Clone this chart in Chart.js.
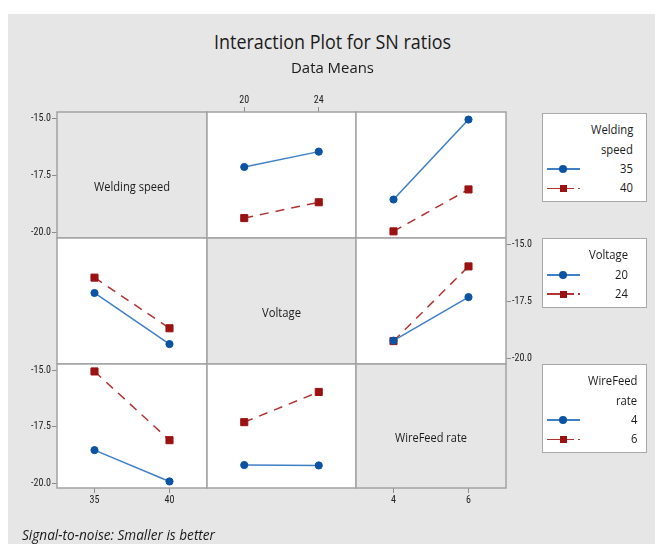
<!DOCTYPE html>
<html lang="en">
<head>
<meta charset="UTF-8">
<meta name="viewport" content="width=device-width, initial-scale=1.0">
<title>Interaction Plot for SN ratios</title>
<script src="https://cdn.jsdelivr.net/npm/chart.js"></script>
<style>
  body { margin: 0; width: 655px; height: 544px; position: relative; overflow: hidden; background: #fff; font-family: 'Open Sans', sans-serif; color: #1a1a1a; }
  .frame { position: absolute; left: 8px; top: 14px; right: 0; bottom: 0; background: #e6e6e6; }
  canvas { position: absolute; }
  .txt { position: absolute; white-space: nowrap; line-height: 1; transform-origin: 0 0; }
  .legend { position: absolute; background: #fff; border: 1px solid #a8a8a8; box-sizing: border-box; }
  .swatch { position: absolute; }
</style>
</head>
<body>
<div class="frame"></div>
<script>
  // factor levels and axis ranges
  const speedLevels = [35, 40];
  const voltageLevels = [20, 24];
  const wireFeedLevels = [4, 6];
  const speedRange = [32.5, 42.5];
  const voltageRange = [18, 26];
  const wireFeedRange = [3, 7];
  const snRange = [-20.22, -14.72];
  const snTicks = [-15, -17.5, -20];

  // mean SN ratios for each pair of levels
  const speed35ByVoltage = [-17.12, -16.45];
  const speed40ByVoltage = [-19.35, -18.66];
  const speed35ByWireFeed = [-18.54, -15.05];
  const speed40ByWireFeed = [-19.93, -18.10];
  const voltage20ByWireFeed = [-19.20, -17.30];
  const voltage24ByWireFeed = [-19.22, -15.96];

  const factors = [
    { name: 'Welding speed', legend: ['Welding', 'speed'], levels: speedLevels, range: speedRange },
    { name: 'Voltage', legend: ['Voltage'], levels: voltageLevels, range: voltageRange },
    { name: 'WireFeed rate', legend: ['WireFeed', 'rate'], levels: wireFeedLevels, range: wireFeedRange }
  ];

  // row factor = line series, column factor = x axis
  const means = {
    '0-1': [speed35ByVoltage, speed40ByVoltage],
    '0-2': [speed35ByWireFeed, speed40ByWireFeed],
    '1-0': [[speed35ByVoltage[0], speed40ByVoltage[0]], [speed35ByVoltage[1], speed40ByVoltage[1]]],
    '1-2': [voltage20ByWireFeed, voltage24ByWireFeed],
    '2-0': [[speed35ByWireFeed[0], speed40ByWireFeed[0]], [speed35ByWireFeed[1], speed40ByWireFeed[1]]],
    '2-1': [[voltage20ByWireFeed[0], voltage24ByWireFeed[0]], [voltage20ByWireFeed[1], voltage24ByWireFeed[1]]]
  };

  // grid layout (px)
  const colLeft = [57, 207, 356], colW = [150, 149, 150];
  const rowTop = [112, 238, 364], rowH = [126, 126, 124];
  const yAxisSide = ['left', 'right', 'left'];
  const yAxisCol = [0, 2, 0];
  const xAxisSide = ['bottom', 'top', 'bottom'];
  const xAxisRow = [2, 0, 2];
  const M = { l: 45, r: 45, t: 28, b: 28 };

  const seriesStyle = [
    { line: '#3f7fc6', point: '#0b53a3', shape: 'circle', radius: 3.6, dash: [] },
    { line: '#b13434', point: '#9a1212', shape: 'rect', radius: 5, dash: [9, 7] }
  ];
  const tickFont = { family: "'Liberation Sans Narrow', 'Roboto Condensed', Roboto, sans-serif", size: 10 };

  const panelBox = {
    id: 'panelBox',
    beforeDatasetsDraw(chart, args, opts) {
      const { ctx, chartArea: a } = chart;
      ctx.save();
      ctx.fillStyle = opts.fill;
      ctx.fillRect(a.left, a.top, a.width, a.height);
      ctx.strokeStyle = '#a3a3a3';
      ctx.lineWidth = 1.5;
      ctx.strokeRect(a.left, a.top, a.width, a.height);
      ctx.restore();
    }
  };

  function makePanel(r, c) {
    const cv = document.createElement('canvas');
    cv.width = colW[c] + M.l + M.r;
    cv.height = rowH[r] + M.t + M.b;
    cv.style.left = (colLeft[c] - M.l) + 'px';
    cv.style.top = (rowTop[r] - M.t) + 'px';
    document.body.appendChild(cv);

    const showX = xAxisRow[c] === r, showY = yAxisCol[r] === c;
    const xPos = xAxisSide[c], yPos = yAxisSide[r];
    const diag = r === c;
    const datasets = diag ? [] : means[r + '-' + c].map((vals, i) => ({
      data: factors[c].levels.map((x, j) => ({ x: x, y: vals[j] })),
      borderColor: seriesStyle[i].line,
      borderWidth: 1.5,
      borderDash: seriesStyle[i].dash,
      pointStyle: seriesStyle[i].shape,
      pointRadius: seriesStyle[i].radius,
      pointBackgroundColor: seriesStyle[i].point,
      pointBorderColor: seriesStyle[i].point,
      pointBorderWidth: 1
    }));

    new Chart(cv.getContext('2d'), {
      type: 'line',
      data: { datasets: datasets },
      plugins: [panelBox],
      options: {
        responsive: false,
        animation: false,
        events: [],
        layout: {
          padding: {
            left: yPos === 'left' ? 0 : M.l,
            right: yPos === 'right' ? 0 : M.r,
            top: xPos === 'top' ? 0 : M.t,
            bottom: xPos === 'bottom' ? 0 : M.b
          }
        },
        scales: {
          x: {
            type: 'linear', position: xPos,
            min: factors[c].range[0], max: factors[c].range[1],
            afterBuildTicks: s => { s.ticks = factors[c].levels.map(v => ({ value: v })); },
            afterFit: s => { s.height = xPos === 'top' ? M.t : M.b; },
            grid: { display: showX, drawOnChartArea: false, tickLength: 5, color: '#8c8c8c' },
            border: { display: false },
            ticks: { display: showX, color: '#222', font: tickFont, padding: 1, maxRotation: 0, autoSkip: false }
          },
          y: {
            type: 'linear', position: yPos,
            min: snRange[0], max: snRange[1],
            afterBuildTicks: s => { s.ticks = snTicks.map(v => ({ value: v })); },
            afterFit: s => { s.width = yPos === 'left' ? M.l : M.r; },
            grid: { display: showY, drawOnChartArea: false, tickLength: 5, color: '#8c8c8c' },
            border: { display: false },
            ticks: { display: showY, color: '#222', font: tickFont, padding: 1, autoSkip: false,
              callback: v => v.toFixed(1) }
          }
        },
        plugins: {
          legend: { display: false },
          tooltip: { enabled: false },
          panelBox: { fill: diag ? '#e6e6e6' : '#ffffff' }
        }
      }
    });
  }

  for (let r = 0; r < 3; r++) {
    for (let c = 0; c < 3; c++) makePanel(r, c);
  }

  // text helper: anchor x (center/left/right), center y, optional fitted width
  function addText(str, x, cy, size, opts = {}) {
    const el = document.createElement('div');
    el.className = 'txt';
    el.textContent = str;
    el.style.fontSize = size + 'px';
    if (opts.italic) el.style.fontStyle = 'italic';
    document.body.appendChild(el);
    const box = el.getBoundingClientRect();
    const s = opts.width ? opts.width / box.width : (opts.scale || 1);
    const w = box.width * s;
    const left = opts.align === 'right' ? x - w : opts.align === 'left' ? x : x - w / 2;
    el.style.left = left + 'px';
    el.style.top = (cy - box.height / 2) + 'px';
    el.style.transform = 'scaleX(' + s + ')';
    return el;
  }

  addText('Interaction Plot for SN ratios', 332.5, 42, 20, { width: 237 });
  addText('Data Means', 332.5, 67, 15, { width: 83 });
  addText('Signal-to-noise: Smaller is better', 22, 535, 14, { width: 193, align: 'left', italic: true });

  // labels sit a little below the middle of the diagonal panels
  const diagLabelWidth = [76, 39, 72];
  factors.forEach((f, i) => {
    addText(f.name, colLeft[i] + colW[i] / 2, rowTop[i] + rowH[i] / 2 + 12, 12, { width: diagLabelWidth[i] });
  });

  // legends
  const legendTop = [113, 238, 364], legendH = [89, 70, 89];
  const legendTextRight = [633, 628, 637];
  const legendLeft = 542, legendW = 105, rowStep = 19.3;
  factors.forEach((f, i) => {
    const box = document.createElement('div');
    box.className = 'legend';
    Object.assign(box.style, { left: legendLeft + 'px', top: legendTop[i] + 'px', width: legendW + 'px', height: legendH[i] + 'px' });
    document.body.appendChild(box);
    const lines = f.legend.concat(f.levels.map(String));
    lines.forEach((t, k) => {
      const cy = legendTop[i] + 17.5 + rowStep * k;
      addText(t, legendTextRight[i], cy, 12.5, { align: 'right', scale: 0.9 });
      const lev = k - f.legend.length;
      if (lev >= 0) {
        const st = seriesStyle[lev];
        const ln = document.createElement('div');
        ln.className = 'swatch';
        Object.assign(ln.style, {
          left: (legendLeft + 5) + 'px', top: (cy - 0.75) + 'px', width: '33px', height: '1.5px',
          background: st.dash.length ? 'repeating-linear-gradient(to right, ' + st.line + ' 0 27px, transparent 27px 31px)' : st.line
        });
        document.body.appendChild(ln);
        const mk = document.createElement('div');
        mk.className = 'swatch';
        const sz = st.shape === 'circle' ? 8 : 7;
        Object.assign(mk.style, {
          left: (legendLeft + 21 - sz / 2) + 'px', top: (cy - sz / 2) + 'px', width: sz + 'px', height: sz + 'px',
          background: st.point, borderRadius: st.shape === 'circle' ? '50%' : '0'
        });
        document.body.appendChild(mk);
      }
    });
  });
</script>
</body>
</html>
